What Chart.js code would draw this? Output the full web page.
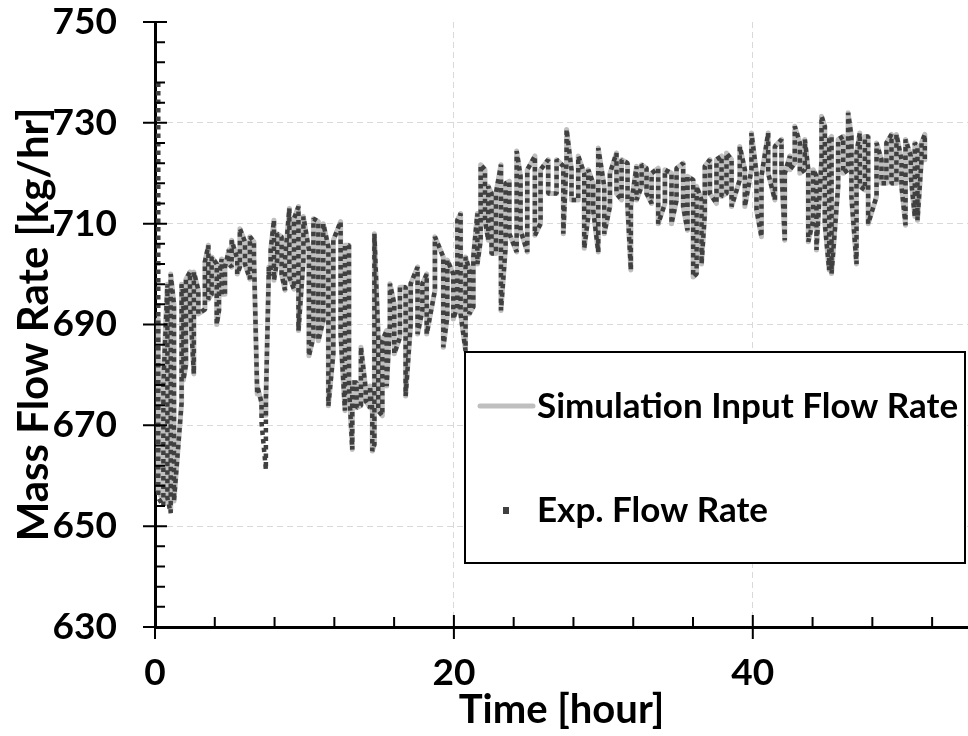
<!DOCTYPE html>
<html>
<head>
<meta charset="utf-8">
<script src="https://cdn.jsdelivr.net/npm/chart.js@4.4.1/dist/chart.umd.min.js"></script>
<style>
  html, body { margin: 0; padding: 0; background: #fff; }
  #wrap { width: 968px; height: 736px; }
</style>
</head>
<body>
<div id="wrap"><canvas id="flowChart" width="968" height="736"></canvas></div>
<script>
// time of each sample column [hour]
const hours = [
  0.22, 0.56, 0.83, 1.05, 1.27, 1.78, 1.9, 2.07, 2.34, 2.6, 2.9, 3.34, 3.57, 3.79, 4.13, 4.28, 4.46, 4.68, 4.95, 5.13,
  5.5, 5.68, 6.02, 6.35, 6.62, 6.84, 7.13, 7.42, 7.62, 7.74, 7.96, 8.18, 8.47, 8.7, 8.99, 9.3,
  9.6, 9.93, 10.3, 10.6, 10.93, 11.26, 11.6, 11.93, 12.42, 12.71, 12.98, 13.2, 13.49, 13.78, 14.1, 14.39, 14.54, 14.68,
  14.94, 15.21, 15.5, 15.72, 16.01, 16.39, 16.77, 17.11, 17.57, 17.89,
  18.18, 18.73, 19.29, 19.56, 19.96, 20.23, 20.45, 20.78, 21.03, 21.3, 21.57, 21.79, 22.08, 22.3, 22.52, 22.81, 23.15,
  23.46, 23.71, 24.2, 24.46, 24.91, 25.42, 25.8, 26.31, 26.87,
  27.32, 27.54, 27.87, 28.32, 28.72, 28.99, 29.32, 29.66, 30.06, 30.44, 30.88, 31.22, 31.62, 31.84, 32.22, 32.56, 32.89,
  33.23, 33.67, 34.12, 34.56, 34.9, 35.34, 35.63, 36.01,
  36.24, 36.57, 36.79, 37.13, 37.57, 37.91, 38.24, 38.58, 39.13, 39.47, 39.91, 40.25, 40.58, 41.03, 41.48, 41.92, 42.14,
  42.48, 42.81, 43.15, 43.48, 43.71, 44.04, 44.26, 44.6, 44.82, 45.11, 45.27,
  45.71, 46.05, 46.38, 46.6, 46.94, 47.16, 47.5, 47.72, 48.28, 48.61, 48.94, 49.28, 49.61, 49.95, 50.22, 50.57, 50.84,
  51.02, 51.29, 51.51
];

// measured flow rate, top and bottom of each column [kg/hr]
const expHigh = [
  738, 678, 698, 700, 694, 698, 696, 699, 700.4, 700.4, 696.8, 702.4, 705.7, 703.4, 702, 699.4, 703, 701.4, 704.8, 706.7,
  703, 709, 706.4, 707.4, 706.4, 677.8, 674.5, 675, 701.4, 704.8, 710.7, 708, 707.4, 702.8, 713, 711,
  713.4, 711.4, 704.8, 711, 710.4, 710, 705.4, 706.7, 710.4, 705.7, 705.7, 678.5, 678.5, 685.5, 677.2, 677.8, 672.9, 708,
  687.5, 686.8, 688.8, 698.1, 694.1, 697.4, 697.4, 698.1, 701.4, 698.1,
  700, 707.4, 703.4, 702.8, 700, 710.7, 712, 703.4, 700.8, 703.4, 712, 721.7, 720.7, 717.4, 716, 716, 721.7,
  718, 718.4, 724.4, 719.4, 720.7, 723.4, 720.7, 722.7, 722.7,
  721.4, 728.7, 720.7, 723.4, 720, 720.7, 718, 725, 717.4, 720, 724, 722.7, 722, 713.4, 721.4, 721.7, 721,
  720, 721, 720.7, 720, 721, 722, 719.4, 718.7,
  717.4, 714.7, 721.4, 722.7, 722.7, 723.4, 724, 722.7, 725.3, 720.7, 728, 720, 719.4, 728, 725.3, 726.7, 720,
  723.4, 729.3, 726, 726.7, 720.7, 720.7, 719.4, 731.3, 729.3, 726.7, 727.3,
  726.7, 727.3, 732, 727.3, 724, 728, 727.3, 727.3, 726, 722.7, 726, 727.7, 727.7, 722.7, 726.7, 723.4, 726,
  725.3, 726, 727.7
];
const expLow = [
  655.6, 654, 655.6, 652.6, 655, 674.5, 679, 682, 694, 680.2, 692.1, 693, 695, 696, 690, 692.8, 696, 696, 702, 701.4,
  700, 701.4, 702, 699, 703.4, 676.2, 670.5, 661.2, 700, 700, 698.8, 702.8, 700, 696.8, 699.4, 697,
  688.8, 702.8, 683.8, 687.5, 686.8, 690.8, 673.9, 684.2, 688.1, 672.9, 677.8, 665.2, 673.5, 673.9, 674.8, 673.5, 664.9, 666.2,
  672.9, 671.9, 677.8, 690.1, 684.2, 687.5, 675.8, 690.1, 688.1, 692.8,
  688.1, 696.8, 685.5, 691.5, 691.1, 693.5, 692.1, 684.8, 692.1, 693.5, 702, 706.7, 710.7, 706.7, 704.1, 704.1, 692.8,
  705.4, 708, 704.4, 708.7, 704.4, 707.7, 710, 716, 716,
  708, 722.7, 714.7, 714.7, 705.1, 711.4, 712.7, 704.4, 708, 713.4, 716, 714.7, 713.4, 700.8, 714.7, 717.4, 716,
  714, 710, 714, 710, 714.7, 713.4, 708.7, 699.4,
  700.1, 702, 712, 716, 714, 715.4, 716, 713.4, 718.7, 713.4, 720.7, 712.7, 707.4, 720, 714.7, 720.7, 706.7,
  720.7, 722, 720, 720.7, 706.4, 710.7, 704.8, 722.7, 710, 700.8, 700.1,
  717.4, 720, 720.7, 715.4, 702, 717.4, 716.7, 710, 715.4, 718, 718, 718, 718, 717.4, 709.7, 719.4, 711.4,
  710.7, 722.7, 722.7
];

// simulation input, top and bottom of each column [kg/hr]
const simHigh = [
  691, 680, 698, 700, 694, 698, 696, 699, 700.4, 700.4, 696.8, 702.4, 705.7, 703.4, 702, 699.4, 703, 701.4, 704.8, 706.7,
  703, 709, 706.4, 707.4, 706.4, 677.8, 674.5, 675, 701.4, 704.8, 710.7, 708, 707.4, 702.8, 713, 711,
  713.4, 711.4, 704.8, 711, 710.4, 710, 705.4, 706.7, 710.4, 705.7, 705.7, 678.5, 678.5, 685.5, 677.2, 677.8, 672.9, 708,
  687.5, 686.8, 688.8, 698.1, 694.1, 697.4, 697.4, 698.1, 701.4, 698.1,
  700, 707.4, 703.4, 702.8, 700, 710.7, 712, 703.4, 700.8, 703.4, 712, 721.7, 720.7, 717.4, 716, 716, 721.7,
  718, 718.4, 724.4, 719.4, 720.7, 723.4, 720.7, 722.7, 722.7,
  721.4, 728.7, 720.7, 723.4, 720, 720.7, 718, 725, 717.4, 720, 724, 722.7, 722, 713.4, 721.4, 721.7, 721,
  720, 721, 720.7, 720, 721, 722, 719.4, 718.7,
  717.4, 714.7, 721.4, 722.7, 722.7, 723.4, 724, 722.7, 725.3, 720.7, 728, 720, 719.4, 728, 725.3, 726.7, 720,
  723.4, 729.3, 726, 726.7, 720.7, 720.7, 719.4, 731.3, 729.3, 726.7, 727.3,
  726.7, 727.3, 732, 727.3, 724, 728, 727.3, 727.3, 726, 722.7, 726, 727.7, 727.7, 722.7, 726.7, 723.4, 726,
  725.3, 726, 727.7
];
const simLow = [
  657, 655, 655.6, 653, 655, 674.5, 679, 682, 694, 680.2, 692.1, 693, 695, 696, 690, 692.8, 696, 696, 702, 701.4,
  700, 701.4, 702, 699, 703.4, 676.2, 672, 672, 700, 700, 698.8, 702.8, 700, 696.8, 699.4, 697,
  688.8, 702.8, 683.8, 687.5, 686.8, 690.8, 673.9, 684.2, 688.1, 672.9, 677.8, 665.2, 673.5, 673.9, 674.8, 673.5, 664.9, 666.2,
  672.9, 671.9, 677.8, 690.1, 684.2, 687.5, 675.8, 690.1, 688.1, 692.8,
  688.1, 696.8, 685.5, 691.5, 691.1, 693.5, 692.1, 684.8, 692.1, 693.5, 702, 706.7, 710.7, 706.7, 704.1, 704.1, 692.8,
  705.4, 708, 704.4, 708.7, 704.4, 707.7, 710, 716, 716,
  708, 722.7, 714.7, 714.7, 705.1, 711.4, 712.7, 704.4, 708, 713.4, 716, 714.7, 713.4, 700.8, 714.7, 717.4, 716,
  714, 710, 714, 710, 714.7, 713.4, 708.7, 699.4,
  700.1, 702, 712, 716, 714, 715.4, 716, 713.4, 718.7, 713.4, 720.7, 712.7, 707.4, 720, 714.7, 720.7, 706.7,
  720.7, 722, 720, 720.7, 706.4, 710.7, 704.8, 722.7, 710, 700.8, 700.1,
  717.4, 720, 720.7, 715.4, 702, 717.4, 716.7, 710, 715.4, 718, 718, 718, 718, 717.4, 709.7, 719.4, 711.4,
  710.7, 722.7, 722.7
];

const seriesNames = ['Simulation Input Flow Rate', 'Exp. Flow Rate'];
const xTitle = 'Time [hour]';
const yTitle = 'Mass Flow Rate [kg/hr]';

// each column goes top->bottom, the next bottom->top, so the path zigzags
function columnPath(highs, lows) {
    const pts = [];
    hours.forEach((t, i) => {
        if (i % 2 === 0) {
            pts.push({ x: t, y: highs[i] }, { x: t, y: lows[i] });
        } else {
            pts.push({ x: t, y: lows[i] }, { x: t, y: highs[i] });
        }
    });
    return pts;
}

const FONT = 'Lato';
const squareColor = '#404040';
const simColor = '#bfbfbf';

// keep the plot area where the original has it
function noScalePadding(scale) {
    scale.paddingLeft = 0;
    scale.paddingRight = 0;
    scale.paddingTop = 0;
    scale.paddingBottom = 0;
}

// minor and major tick marks, crossing the axes like the original
const tickMarks = {
    id: 'tickMarks',
    afterDraw(chart) {
        const ctx = chart.ctx;
        const xs = chart.scales.x, ys = chart.scales.y;
        const x0 = xs.left, y0 = ys.bottom;
        ctx.save();
        ctx.strokeStyle = '#000';
        ctx.lineWidth = 2;
        ctx.beginPath();
        for (let v = 630; v <= 750; v += 4) {
            const py = ys.getPixelForValue(v);
            const major = (v - 630) % 20 === 0;
            ctx.moveTo(major ? x0 - 12 : x0, py);
            ctx.lineTo(x0 + (major ? 12 : 10), py);
        }
        for (let t = 0; t <= xs.max; t += 4) {
            const px = xs.getPixelForValue(t);
            const major = t % 20 === 0;
            ctx.moveTo(px, major ? y0 + 12 : y0);
            ctx.lineTo(px, y0 - (major ? 12 : 10));
        }
        ctx.stroke();
        ctx.restore();
    }
};

// boxed legend inside the plot area
const boxLegend = {
    id: 'boxLegend',
    afterDraw(chart) {
        const ctx = chart.ctx;
        const a = chart.chartArea;
        const bx = a.left + 310, by = a.top + 330, bw = 500, bh = 211;
        ctx.save();
        ctx.fillStyle = '#fff';
        ctx.fillRect(bx, by, bw, bh);
        ctx.strokeStyle = '#000';
        ctx.lineWidth = 2;
        ctx.strokeRect(bx, by, bw, bh);

        ctx.strokeStyle = simColor;
        ctx.lineWidth = 5;
        ctx.lineCap = 'round';
        ctx.beginPath();
        ctx.moveTo(bx + 15, by + 54);
        ctx.lineTo(bx + 68, by + 54);
        ctx.stroke();

        ctx.fillStyle = squareColor;
        ctx.fillRect(bx + 38, by + 155, 6, 7);

        ctx.fillStyle = '#000';
        ctx.font = 'bold 35px ' + FONT;
        ctx.textBaseline = 'middle';
        ctx.fillText(seriesNames[0], bx + 72, by + 55);
        ctx.fillText(seriesNames[1], bx + 72, by + 159);
        ctx.restore();
    }
};

const ctx = document.getElementById('flowChart').getContext('2d');

const flowChart = new Chart(ctx, {
    type: 'scatter',
    data: {
        datasets: [
            {
                label: seriesNames[1],
                data: columnPath(expHigh, expLow),
                showLine: true,
                borderColor: squareColor,
                borderWidth: 4.5,
                borderDash: [4.5, 4],
                borderCapStyle: 'butt',
                borderJoinStyle: 'bevel',
                pointRadius: 0,
                tension: 0,
                order: 0
            },
            {
                label: seriesNames[0],
                data: columnPath(simHigh, simLow),
                showLine: true,
                borderColor: simColor,
                borderWidth: 5,
                borderJoinStyle: 'round',
                pointRadius: 0,
                tension: 0,
                order: 1
            }
        ]
    },
    options: {
        responsive: false,
        animation: false,
        events: [],
        layout: { padding: { top: 22, right: 0, left: 0, bottom: 0 } },
        plugins: {
            legend: { display: false },
            tooltip: { enabled: false }
        },
        scales: {
            x: {
                type: 'linear',
                min: 0,
                max: 54.4,
                afterFit(scale) {
                    scale.height = 109;
                    noScalePadding(scale);
                },
                ticks: {
                    stepSize: 20,
                    padding: 24,
                    maxRotation: 0,
                    color: '#000',
                    font: { family: FONT, size: 37, weight: 'bold' },
                    callback: v => (v % 20 === 0 ? v : '')
                },
                grid: {
                    drawTicks: false,
                    lineWidth: 1,
                    color: c => (c.tick && (c.tick.value === 20 || c.tick.value === 40) ? '#d9d9d9' : 'transparent')
                },
                border: { display: true, color: '#000', width: 3, dash: [6, 4] },
                title: {
                    display: true,
                    text: xTitle,
                    color: '#000',
                    font: { family: FONT, size: 40, weight: 'bold' },
                    padding: { top: 0, bottom: 2 }
                }
            },
            y: {
                min: 630,
                max: 750,
                afterFit(scale) {
                    scale.width = 155;
                    noScalePadding(scale);
                },
                ticks: {
                    stepSize: 20,
                    padding: 38,
                    color: '#000',
                    font: { family: FONT, size: 37, weight: 'bold' }
                },
                grid: {
                    drawTicks: false,
                    lineWidth: 1,
                    color: c => (c.tick && c.tick.value > 630 && c.tick.value < 750 ? '#d9d9d9' : 'transparent')
                },
                border: { display: true, color: '#000', width: 3, dash: [6, 4] },
                title: {
                    display: true,
                    text: yTitle,
                    color: '#000',
                    font: { family: FONT, size: 42, weight: 'bold' },
                    padding: { top: 9, bottom: 0 }
                }
            }
        }
    },
    plugins: [tickMarks, boxLegend]
});
</script>
</body>
</html>
